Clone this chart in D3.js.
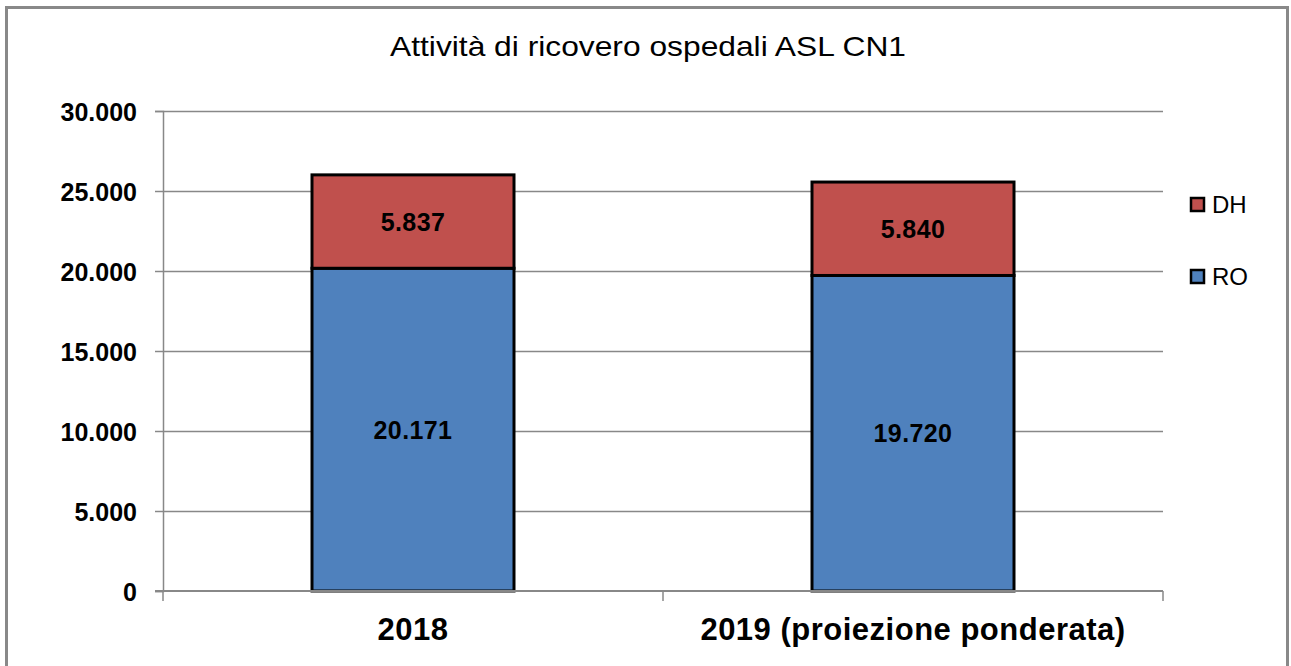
<!DOCTYPE html>
<html>
<head>
<meta charset="utf-8">
<script src="https://cdn.jsdelivr.net/npm/d3@7"></script>
<style>
  body { margin: 0; background: #fff; }
  svg { display: block; font-family: "Liberation Sans", Arial, sans-serif; }
</style>
</head>
<body>
<div id="chart"></div>
<script>
// chart data
var categories = ["2018", "2019 (proiezione ponderata)"];
var seriesNames = ["RO", "DH"];
var valuesRO = [20171, 19720];
var valuesDH = [5837, 5840];
var yTicks = [0, 5000, 10000, 15000, 20000, 25000, 30000];
var chartTitle = "Attività di ricovero ospedali ASL CN1";

var W = 1291, H = 666;
var plot = {left: 163, right: 1163, top: 111, bottom: 591};
var colors = {"RO": "#4F81BD", "DH": "#C0504D"};

var it = d3.formatLocale({decimal: ",", thousands: ".", grouping: [3], currency: ["€", ""]});
var fmt = it.format(",d");

var svg = d3.select("#chart").append("svg")
    .attr("width", W)
    .attr("height", H);

// outer frame
svg.append("rect")
    .attr("x", 6.5).attr("y", 7.5)
    .attr("width", 1281).attr("height", 670)
    .attr("fill", "#fff")
    .attr("stroke", "#898989")
    .attr("stroke-width", 3);

// title is a bit stretched in the original
svg.append("text")
    .attr("x", 648).attr("y", 56)
    .attr("text-anchor", "middle")
    .attr("textLength", 516)
    .attr("lengthAdjust", "spacingAndGlyphs")
    .style("font-size", "28px")
    .text(chartTitle);

var x = d3.scaleBand()
    .domain(categories)
    .range([plot.left, plot.right])
    .paddingInner(0.596)
    .paddingOuter(0.298);

var y = d3.scaleLinear()
    .domain([0, 30000])
    .range([plot.bottom, plot.top]);

// gridlines
svg.append("g")
    .selectAll("line")
    .data(yTicks.filter(function(d) { return d > 0; }))
    .enter().append("line")
    .attr("x1", plot.left).attr("x2", plot.right)
    .attr("y1", function(d) { return y(d) + 0.5; })
    .attr("y2", function(d) { return y(d) + 0.5; })
    .attr("stroke", "#888")
    .attr("stroke-width", 1.3);

// y axis
var yAxis = svg.append("g")
    .attr("transform", "translate(" + plot.left + ",0)")
    .call(d3.axisLeft(y).tickValues(yTicks).tickFormat(fmt).tickSize(8).tickPadding(18));
yAxis.select(".domain").attr("stroke", "#888").attr("stroke-width", 1.5);
yAxis.selectAll(".tick line").attr("stroke", "#888").attr("stroke-width", 1.5);
yAxis.selectAll(".tick text")
    .attr("fill", "#000")
    .style("font-family", "Liberation Sans, Arial, sans-serif")
    .style("font-size", "25px")
    .style("font-weight", "bold")
    .attr("dy", "0.36em");

// stacked data
var stackInput = categories.map(function(c, i) {
    return {cat: c, RO: valuesRO[i], DH: valuesDH[i]};
});
var stacked = d3.stack().keys(seriesNames)(stackInput);

var layers = svg.append("g")
    .selectAll("g")
    .data(stacked)
    .enter().append("g")
    .attr("fill", function(d) { return colors[d.key]; });

layers.selectAll("rect")
    .data(function(d) { return d; })
    .enter().append("rect")
    .attr("x", function(d) { return x(d.data.cat); })
    .attr("width", x.bandwidth())
    .attr("y", function(d) { return y(d[1]); })
    .attr("height", function(d) { return y(d[0]) - y(d[1]); })
    .attr("stroke", "#000")
    .attr("stroke-width", 3);

layers.selectAll("text")
    .data(function(d) { return d; })
    .enter().append("text")
    .attr("x", function(d) { return x(d.data.cat) + x.bandwidth() / 2; })
    .attr("y", function(d) { return (y(d[0]) + y(d[1])) / 2; })
    .attr("dy", "0.36em")
    .attr("text-anchor", "middle")
    .attr("fill", "#000")
    .style("font-size", "25px")
    .style("font-weight", "bold")
    .style("letter-spacing", "0.4px")
    .text(function(d) { return fmt(d[1] - d[0]); });

// x axis line with boundary ticks
var xAxis = svg.append("g");
xAxis.append("line")
    .attr("x1", plot.left - 8).attr("x2", plot.right)
    .attr("y1", plot.bottom).attr("y2", plot.bottom)
    .attr("stroke", "#888").attr("stroke-width", 2);
var step = x.step();
xAxis.selectAll("line.b")
    .data(d3.range(categories.length + 1))
    .enter().append("line")
    .attr("class", "b")
    .attr("x1", function(i) { return plot.left + i * step; })
    .attr("x2", function(i) { return plot.left + i * step; })
    .attr("y1", plot.bottom).attr("y2", plot.bottom + 10)
    .attr("stroke", "#888").attr("stroke-width", 1.5);
xAxis.selectAll("text")
    .data(categories)
    .enter().append("text")
    .attr("x", function(d) { return x(d) + x.bandwidth() / 2; })
    .attr("y", 640)
    .attr("text-anchor", "middle")
    .style("font-size", "31px")
    .style("font-weight", "bold")
    .style("letter-spacing", "0.5px")
    .text(function(d) { return d; });

// legend
var legend = svg.append("g")
    .selectAll("g")
    .data(seriesNames.slice().reverse())
    .enter().append("g")
    .attr("transform", function(d, i) { return "translate(1191," + (198 + i * 72) + ")"; });
legend.append("rect")
    .attr("width", 13).attr("height", 13)
    .attr("fill", function(d) { return colors[d]; })
    .attr("stroke", "#000").attr("stroke-width", 2.5);
legend.append("text")
    .attr("x", 21).attr("y", 15)
    .style("font-size", "24px")
    .text(function(d) { return d; });
</script>
</body>
</html>
